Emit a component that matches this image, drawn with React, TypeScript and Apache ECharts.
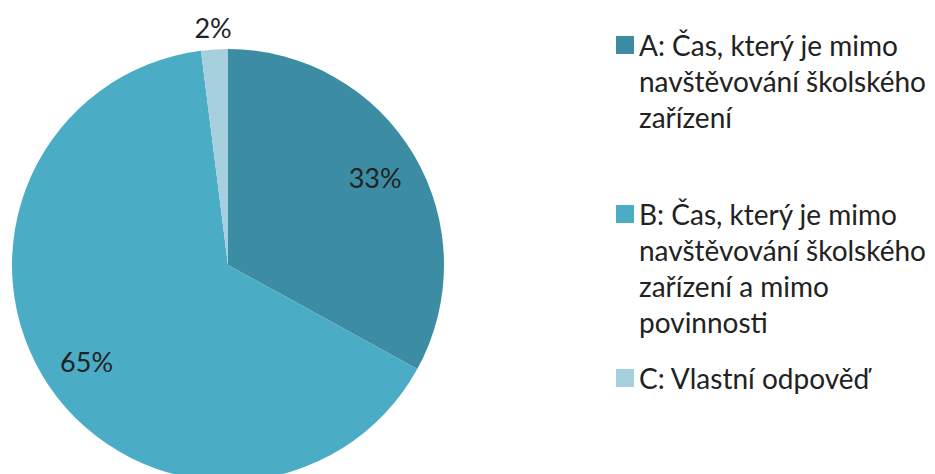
import React, { useEffect, useRef } from "react";
import * as echarts from "echarts";

const categories = [
  "A: Čas, který je mimo navštěvování školského zařízení",
  "B: Čas, který je mimo navštěvování školského zařízení a mimo povinnosti",
  "C: Vlastní odpověď",
];
const values = [33, 65, 2];
const colors = ["#3C8DA3", "#4BACC6", "#A7D0DF"];
const legendLines = [
  ["A: Čas, který je mimo", "navštěvování školského", "zařízení"],
  ["B: Čas, který je mimo", "navštěvování školského", "zařízení a mimo", "povinnosti"],
  ["C: Vlastní odpověď"],
];
const legendCenters = [45, 214, 378];

const FONT = "Lato";
const LINE = 36;
const BOX = 18;
const TEXT = "#222222";

export default function App() {
  const ref = useRef<HTMLDivElement>(null);
  useEffect(() => {
    if (!ref.current) return;
    const chart = echarts.init(ref.current, undefined, { renderer: "svg" });
    const data = categories.map((name, i) => ({
      name,
      value: values[i],
      itemStyle: { color: colors[i] },
    }));
    const legends = categories.map((name, i) => {
      const n = legendLines[i].length;
      const h = BOX + (n - 1) * LINE;
      return {
        show: true,
        orient: "vertical",
        left: 616,
        top: legendCenters[i] - BOX,
        padding: 0,
        itemWidth: BOX,
        itemHeight: h,
        symbolKeepAspect: false,
        icon: `path://M0,0L${BOX},0L${BOX},${BOX}L0,${BOX}Z M0,${h}L0.001,${h}`,
        selectedMode: false,
        data: [name],
        formatter: () => legendLines[i].join("\n"),
        textStyle: {
          fontFamily: FONT,
          fontSize: 28,
          color: TEXT,
          lineHeight: LINE,
        },
      };
    });
    const labelStyle = {
      show: true,
      position: "inside",
      formatter: "{c}%",
      fontFamily: FONT,
      fontSize: 27,
      color: TEXT,
    };
    chart.setOption({
      animation: false,
      backgroundColor: "#ffffff",
      legend: legends,
      series: [
        {
          type: "pie",
          center: [228, 265],
          radius: 216,
          silent: true,
          label: { show: false },
          labelLine: { show: false },
          data,
        },
        {
          type: "pie",
          center: [228, 265],
          radius: [120, 216],
          silent: true,
          avoidLabelOverlap: false,
          itemStyle: { color: "rgba(0,0,0,0)" },
          labelLine: { show: false },
          label: labelStyle,
          data: categories.map((name, i) => ({
            name,
            value: values[i],
            itemStyle: { color: "rgba(0,0,0,0)" },
            label: { show: i < 2 },
          })),
        },
        {
          type: "pie",
          center: [228, 265],
          radius: [225, 245],
          silent: true,
          avoidLabelOverlap: false,
          itemStyle: { color: "rgba(0,0,0,0)" },
          labelLine: { show: false },
          label: labelStyle,
          data: categories.map((name, i) => ({
            name,
            value: values[i],
            itemStyle: { color: "rgba(0,0,0,0)" },
            label: { show: i === 2 },
          })),
        },
      ],
    });
    return () => chart.dispose();
  }, []);
  return (
    <div
      ref={ref}
      style={{ position: "absolute", left: 0, top: 0, width: 935, height: 474 }}
    />
  );
}
